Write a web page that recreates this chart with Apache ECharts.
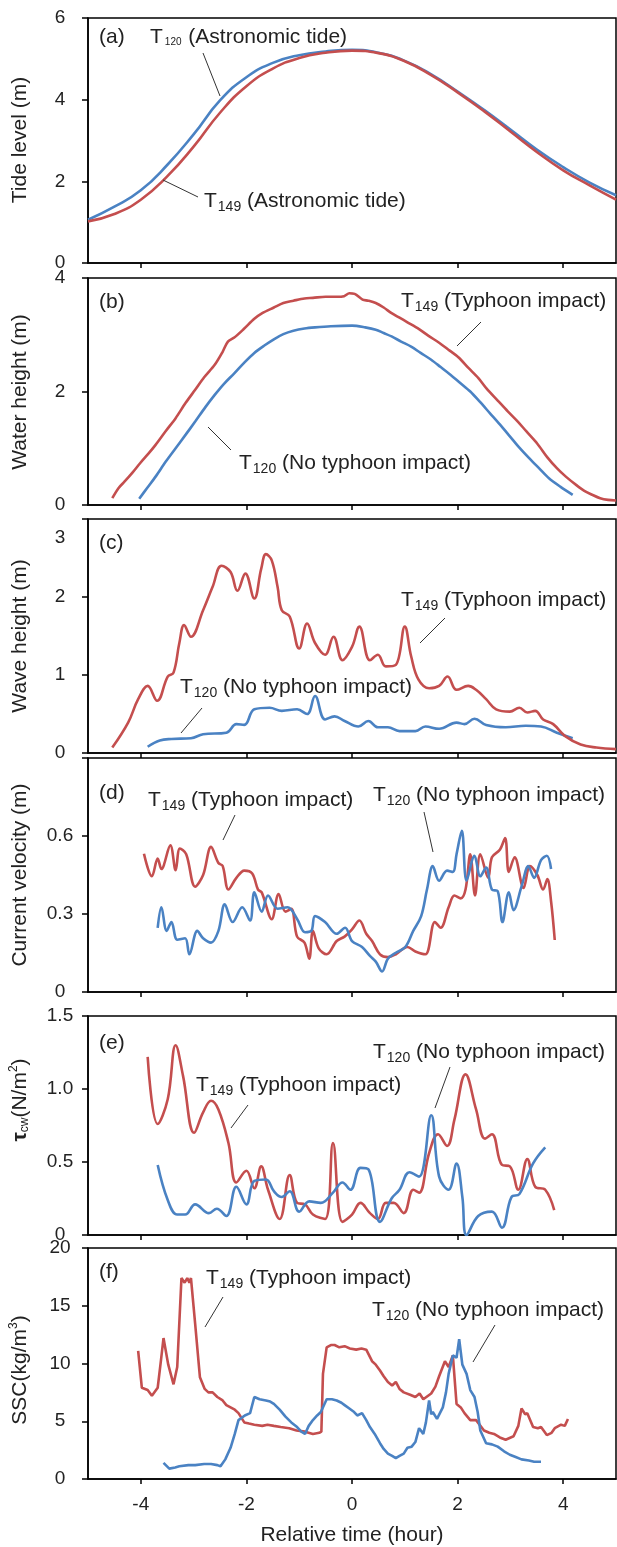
<!DOCTYPE html>
<html>
<head>
<meta charset="utf-8">
<script src="https://cdn.jsdelivr.net/npm/echarts@6/dist/echarts.min.js"></script>
<style>
  html, body { margin: 0; padding: 0; background: #fff; }
  #chart { width: 617px; height: 1547px; }
</style>
</head>
<body>
<div id="chart"></div>
<script>
// ---- data: [relative time (h), value] ----
// (a) astronomic tide level (m)
const tideT120 = [[-5,1.06],[-4.5,1.38],[-4,1.78],[-3.5,2.4],[-3,3.15],[-2.5,3.98],[-2,4.55],[-1.5,4.9],[-1,5.09],[-0.5,5.18],[0,5.22],[0.5,5.15],[1,4.95],[1.5,4.62],[2,4.2],[2.5,3.75],[3,3.27],[3.5,2.78],[4,2.35],[4.5,1.97],[5,1.66]];
const tideT149 = [[-5,1.02],[-4.5,1.2],[-4,1.55],[-3.5,2.12],[-3,2.85],[-2.5,3.68],[-2,4.33],[-1.5,4.76],[-1,5.02],[-0.5,5.15],[0,5.2],[0.5,5.14],[1,4.94],[1.5,4.6],[2,4.18],[2.5,3.72],[3,3.22],[3.5,2.72],[4,2.27],[4.5,1.9],[5,1.55]];

// (b) water height (m)
const waterT149 = [[-4.54,0.12],[-4.42,0.3],[-4.31,0.41],[-4.15,0.58],[-4.01,0.74],[-3.86,0.9],[-3.72,1.06],[-3.53,1.3],[-3.34,1.53],[-3.15,1.8],[-2.97,2.03],[-2.8,2.25],[-2.6,2.47],[-2.45,2.7],[-2.35,2.88],[-2.23,2.95],[-2.05,3.1],[-1.85,3.28],[-1.7,3.38],[-1.48,3.48],[-1.3,3.56],[-1.11,3.6],[-0.9,3.64],[-0.74,3.65],[-0.5,3.67],[-0.29,3.67],[-0.15,3.68],[-0.05,3.73],[0.05,3.72],[0.2,3.62],[0.31,3.6],[0.45,3.56],[0.6,3.48],[0.75,3.38],[0.9,3.3],[1.05,3.22],[1.27,3.1],[1.45,2.98],[1.65,2.86],[1.85,2.72],[2.02,2.6],[2.2,2.42],[2.39,2.24],[2.55,2.05],[2.76,1.84],[2.95,1.65],[3.14,1.47],[3.3,1.3],[3.51,1.08],[3.7,0.84],[3.88,0.65],[4.05,0.5],[4.25,0.35],[4.4,0.25],[4.55,0.18],[4.7,0.12],[4.85,0.09],[5.0,0.08]];
const waterT120 = [[-4.03,0.11],[-3.88,0.3],[-3.72,0.5],[-3.53,0.76],[-3.34,1.0],[-3.15,1.24],[-2.97,1.47],[-2.78,1.72],[-2.6,1.94],[-2.42,2.14],[-2.23,2.32],[-2.04,2.51],[-1.85,2.68],[-1.66,2.81],[-1.48,2.92],[-1.3,3.01],[-1.11,3.07],[-0.9,3.11],[-0.7,3.13],[-0.4,3.15],[0,3.16],[0.25,3.13],[0.45,3.09],[0.6,3.03],[0.75,2.97],[0.93,2.88],[1.12,2.79],[1.3,2.68],[1.5,2.56],[1.68,2.43],[1.87,2.29],[2.05,2.15],[2.24,2.0],[2.42,1.82],[2.61,1.62],[2.8,1.42],[2.99,1.21],[3.17,1.01],[3.36,0.82],[3.55,0.64],[3.73,0.47],[3.95,0.32],[4.18,0.18]];

// (c) wave height (m)
const waveT149 = [[-4.54,0.07],[-4.24,0.39],[-4.05,0.69],[-3.87,0.86],[-3.69,0.67],[-3.49,0.98],[-3.38,1.03],[-3.27,1.41],[-3.18,1.64],[-3.05,1.49],[-2.82,1.83],[-2.64,2.13],[-2.47,2.4],[-2.3,2.32],[-2.17,2.08],[-2.02,2.3],[-1.85,1.98],[-1.72,2.36],[-1.63,2.55],[-1.52,2.47],[-1.41,2.13],[-1.33,1.83],[-1.18,1.75],[-1.0,1.34],[-0.85,1.66],[-0.7,1.41],[-0.51,1.26],[-0.35,1.49],[-0.18,1.19],[0.0,1.36],[0.14,1.62],[0.34,1.19],[0.49,1.26],[0.64,1.11],[0.83,1.13],[1.0,1.62],[1.12,1.24],[1.26,0.94],[1.46,0.83],[1.65,0.86],[1.81,0.98],[1.98,0.81],[2.2,0.86],[2.35,0.81],[2.54,0.69],[2.73,0.56],[2.99,0.53],[3.17,0.58],[3.32,0.52],[3.47,0.54],[3.62,0.43],[3.81,0.37],[4.03,0.22],[4.33,0.11],[4.63,0.07],[5.0,0.05]];
const waveT120 = [[-3.87,0.08],[-3.64,0.16],[-3.42,0.18],[-3.05,0.19],[-2.82,0.24],[-2.38,0.26],[-2.19,0.37],[-2.04,0.36],[-1.85,0.56],[-1.56,0.58],[-1.33,0.54],[-1.04,0.56],[-0.85,0.5],[-0.7,0.73],[-0.51,0.43],[-0.33,0.47],[-0.14,0.41],[0.12,0.34],[0.31,0.41],[0.49,0.33],[0.68,0.33],[0.9,0.28],[1.2,0.28],[1.39,0.34],[1.65,0.31],[1.98,0.39],[2.13,0.37],[2.32,0.44],[2.54,0.36],[2.91,0.33],[3.29,0.35],[3.58,0.34],[3.88,0.26],[4.18,0.19]];

// (d) current velocity
const velT149 = [[-3.94,0.532],[-3.79,0.445],[-3.68,0.513],[-3.61,0.473],[-3.44,0.564],[-3.34,0.468],[-3.26,0.552],[-3.14,0.53],[-2.97,0.405],[-2.82,0.45],[-2.67,0.558],[-2.53,0.496],[-2.45,0.485],[-2.34,0.394],[-2.19,0.439],[-2.04,0.467],[-1.89,0.456],[-1.78,0.394],[-1.71,0.383],[-1.52,0.28],[-1.39,0.377],[-1.26,0.309],[-1.15,0.32],[-1.04,0.213],[-0.9,0.19],[-0.81,0.128],[-0.74,0.235],[-0.63,0.168],[-0.48,0.145],[-0.29,0.196],[-0.14,0.213],[0.0,0.241],[0.14,0.275],[0.27,0.224],[0.38,0.196],[0.53,0.145],[0.68,0.134],[0.83,0.145],[1.05,0.173],[1.2,0.156],[1.39,0.145],[1.57,0.269],[1.68,0.247],[1.83,0.326],[1.94,0.371],[2.06,0.36],[2.15,0.394],[2.24,0.53],[2.33,0.371],[2.43,0.53],[2.58,0.439],[2.65,0.518],[2.8,0.547],[2.9,0.592],[2.97,0.462],[3.08,0.518],[3.25,0.4],[3.37,0.484],[3.51,0.45],[3.62,0.394],[3.7,0.434],[3.77,0.349],[3.84,0.2]];
const velT120 = [[-3.68,0.247],[-3.61,0.326],[-3.51,0.235],[-3.42,0.269],[-3.31,0.201],[-3.16,0.207],[-3.08,0.145],[-2.93,0.235],[-2.82,0.207],[-2.67,0.19],[-2.53,0.235],[-2.41,0.337],[-2.26,0.269],[-2.08,0.326],[-1.93,0.275],[-1.85,0.383],[-1.71,0.309],[-1.59,0.371],[-1.41,0.32],[-1.22,0.326],[-1.04,0.281],[-0.89,0.23],[-0.77,0.235],[-0.7,0.292],[-0.51,0.269],[-0.29,0.224],[-0.13,0.247],[0.0,0.196],[0.19,0.173],[0.34,0.139],[0.45,0.117],[0.57,0.079],[0.68,0.128],[0.83,0.151],[1.01,0.173],[1.16,0.235],[1.31,0.292],[1.42,0.394],[1.53,0.484],[1.65,0.428],[1.8,0.467],[1.91,0.462],[1.98,0.53],[2.08,0.62],[2.17,0.428],[2.32,0.524],[2.43,0.445],[2.54,0.479],[2.65,0.394],[2.76,0.388],[2.85,0.269],[2.97,0.383],[3.06,0.315],[3.21,0.405],[3.34,0.484],[3.45,0.439],[3.58,0.507],[3.69,0.524],[3.77,0.473]];

// (e) bed shear stress tau_cw (N/m2)
const tauT149 = [[-3.87,1.22],[-3.68,0.76],[-3.49,0.93],[-3.34,1.3],[-3.2,1.09],[-2.99,0.7],[-2.82,0.84],[-2.67,0.92],[-2.53,0.86],[-2.34,0.63],[-2.19,0.36],[-2.0,0.44],[-1.85,0.32],[-1.72,0.47],[-1.59,0.31],[-1.37,0.11],[-1.18,0.41],[-1.04,0.22],[-0.89,0.21],[-0.74,0.14],[-0.51,0.11],[-0.36,0.63],[-0.18,0.09],[0.0,0.14],[0.16,0.22],[0.34,0.15],[0.49,0.11],[0.64,0.22],[0.79,0.22],[0.98,0.15],[1.16,0.31],[1.27,0.29],[1.46,0.56],[1.63,0.69],[1.8,0.61],[1.94,0.79],[2.15,1.1],[2.35,0.86],[2.52,0.66],[2.65,0.69],[2.84,0.48],[2.99,0.47],[3.15,0.31],[3.32,0.52],[3.47,0.33],[3.66,0.31],[3.83,0.17]];
const tauT120 = [[-3.68,0.48],[-3.49,0.24],[-3.31,0.14],[-3.16,0.14],[-2.97,0.21],[-2.71,0.15],[-2.56,0.18],[-2.38,0.13],[-2.19,0.33],[-2.0,0.21],[-1.85,0.37],[-1.63,0.38],[-1.48,0.3],[-1.33,0.26],[-1.18,0.3],[-1.0,0.16],[-0.81,0.23],[-0.59,0.22],[-0.36,0.29],[-0.18,0.36],[-0.03,0.31],[0.16,0.46],[0.31,0.45],[0.53,0.09],[0.75,0.25],[0.9,0.31],[1.09,0.43],[1.27,0.4],[1.5,0.82],[1.65,0.4],[1.83,0.31],[1.98,0.49],[2.09,0.26],[2.17,0.0],[2.39,0.13],[2.65,0.16],[2.84,0.05],[3.02,0.26],[3.17,0.28],[3.43,0.49],[3.66,0.6]];

// (f) suspended sediment concentration (kg/m3)
const sscT149 = [[-4.05,11.1],[-3.98,7.9],[-3.87,7.7],[-3.79,7.2],[-3.68,7.9],[-3.62,10.2],[-3.57,12.2],[-3.48,9.9],[-3.38,8.2],[-3.31,9.7],[-3.23,17.4],[-3.17,17.0],[-3.12,17.4],[-3.08,17.0],[-3.05,17.4],[-2.97,13.4],[-2.88,8.8],[-2.79,7.8],[-2.72,7.5],[-2.64,7.5],[-2.55,7.1],[-2.45,6.8],[-2.38,6.4],[-2.3,6.2],[-2.22,6.0],[-2.15,5.7],[-2.04,4.9],[-1.95,4.8],[-1.85,4.7],[-1.7,4.6],[-1.6,4.7],[-1.48,4.6],[-1.35,4.5],[-1.19,4.4],[-1.05,4.2],[-0.89,4.1],[-0.74,3.9],[-0.62,4.0],[-0.58,4.1],[-0.55,9.1],[-0.48,11.4],[-0.4,11.6],[-0.33,11.6],[-0.24,11.4],[-0.14,11.5],[-0.04,11.3],[0.08,11.2],[0.18,11.3],[0.27,11.2],[0.38,10.2],[0.45,9.9],[0.53,9.4],[0.6,8.9],[0.68,8.4],[0.76,8.1],[0.83,8.4],[0.9,7.8],[0.98,7.5],[1.1,7.3],[1.2,7.1],[1.28,7.4],[1.35,6.9],[1.5,7.4],[1.58,8.0],[1.65,8.9],[1.76,10.2],[1.83,9.7],[1.91,10.7],[1.98,6.5],[2.06,6.2],[2.13,5.7],[2.24,5.1],[2.35,5.1],[2.5,4.2],[2.6,4.0],[2.69,3.9],[2.8,3.6],[2.91,3.4],[3.06,3.7],[3.15,4.6],[3.21,6.1],[3.28,5.6],[3.32,5.7],[3.43,4.5],[3.52,4.4],[3.58,4.5],[3.69,3.8],[3.78,4.0],[3.84,4.4],[3.96,4.7],[4.03,4.6],[4.09,5.2]];
const sscT120 = [[-3.57,1.4],[-3.46,0.9],[-3.35,1.0],[-3.27,1.1],[-3.1,1.2],[-2.97,1.2],[-2.8,1.3],[-2.67,1.3],[-2.55,1.2],[-2.49,1.1],[-2.4,1.7],[-2.3,2.7],[-2.22,3.9],[-2.15,5.1],[-2.03,5.5],[-1.93,5.7],[-1.85,7.1],[-1.75,6.9],[-1.63,6.8],[-1.55,6.7],[-1.48,6.5],[-1.37,6.0],[-1.26,5.4],[-1.15,4.9],[-1.04,4.5],[-0.96,4.1],[-0.89,3.9],[-0.82,4.6],[-0.74,5.1],[-0.66,5.5],[-0.59,5.8],[-0.48,6.9],[-0.38,6.9],[-0.29,6.8],[-0.2,6.6],[-0.14,6.4],[-0.05,6.1],[0.04,5.8],[0.1,5.5],[0.19,5.7],[0.27,5.1],[0.34,4.5],[0.43,3.9],[0.53,3.1],[0.6,2.6],[0.68,2.2],[0.76,2.0],[0.83,1.8],[0.9,2.0],[0.98,2.2],[1.05,2.7],[1.13,2.8],[1.2,3.2],[1.27,4.4],[1.32,4.1],[1.35,3.9],[1.4,4.9],[1.46,6.8],[1.5,5.6],[1.53,5.8],[1.61,5.2],[1.72,6.2],[1.78,7.5],[1.83,9.1],[1.91,10.7],[1.98,10.5],[2.03,12.1],[2.09,9.9],[2.17,9.1],[2.24,7.7],[2.32,7.1],[2.38,5.8],[2.43,4.2],[2.54,3.1],[2.65,3.0],[2.76,2.8],[2.88,2.4],[2.99,2.1],[3.1,1.9],[3.21,1.7],[3.35,1.6],[3.45,1.5],[3.58,1.5]];

// tick labels shared by the time axes
const timeTicks = [-4, -2, 0, 2, 4];

const RED = '#c44e4e';
const BLUE = '#4a82c3';
const FONT = '"Liberation Sans", Arial, sans-serif';

const chart = echarts.init(document.getElementById('chart'), null, { renderer: 'canvas' });

// panel frames (top, height) in px
const panels = [
  { top: 18, height: 245 },
  { top: 278, height: 227 },
  { top: 519, height: 234 },
  { top: 758, height: 234 },
  { top: 1016, height: 219 },
  { top: 1248, height: 234 }
];
const yScales = [
  { max: 6, interval: 2 },
  { max: 4, interval: 2 },
  { max: 3, interval: 1 },
  { max: 0.9, interval: 0.3 },
  { max: 1.5, interval: 0.5 },
  { max: 20, interval: 5 }
];
const yFormatters = [
  v => String(v),
  v => String(v),
  v => (v === 3 ? '{lo|3}' : String(v)),
  v => (v === 0 ? '0' : (Math.abs(v - 0.9) < 1e-6 ? '' : v.toFixed(1))),
  v => (v === 0 ? '0' : v.toFixed(1)),
  v => String(v)
];

const grid = panels.map(p => ({
  left: 88, width: 528, top: p.top, height: p.height,
  show: true, borderColor: '#000', borderWidth: 1.5, backgroundColor: 'transparent'
}));

const xAxis = panels.map((p, i) => ({
  type: 'value', gridIndex: i, min: -5, max: 5,
  axisLine: { onZero: false, lineStyle: { color: '#000', width: 1.5 } },
  axisTick: { show: true, inside: false, length: 5, customValues: timeTicks, lineStyle: { color: '#000', width: 1.5 } },
  axisLabel: { show: i === 5, customValues: timeTicks, margin: 16, fontSize: 19, color: '#222', fontFamily: FONT },
  splitLine: { show: false },
  name: i === 5 ? 'Relative time (hour)' : '',
  nameLocation: 'middle', nameGap: 46,
  nameTextStyle: { fontSize: 21, color: '#222', fontFamily: FONT }
}));

const yAxis = panels.map((p, i) => ({
  type: 'value', gridIndex: i, min: 0, max: yScales[i].max, interval: yScales[i].interval,
  axisLine: { show: true, onZero: false, lineStyle: { color: '#000', width: 1.5 } },
  axisTick: { show: true, inside: false, length: 6, lineStyle: { color: '#000', width: 1.5 } },
  axisLabel: {
    margin: 28, align: 'center', fontSize: 19, color: '#222', fontFamily: FONT,
    formatter: yFormatters[i],
    rich: { lo: { fontSize: 19, color: '#222', fontFamily: FONT, padding: [38, 0, 0, 0] } }
  },
  splitLine: { show: false }
}));

function line(data, idx, color, smooth) {
  return {
    type: 'line', xAxisIndex: idx, yAxisIndex: idx, data: data,
    showSymbol: false, smooth: smooth, clip: true,
    lineStyle: { color: color, width: 2.6 }, itemStyle: { color: color },
    animation: false
  };
}

const series = [
  line(tideT120, 0, BLUE, true),
  line(tideT149, 0, RED, true),
  line(waterT120, 1, BLUE, 0.3),
  line(waterT149, 1, RED, 0.3),
  line(waveT120, 2, BLUE, 0.4),
  line(waveT149, 2, RED, 0.4),
  line(velT149, 3, RED, 0.35),
  line(velT120, 3, BLUE, 0.35),
  line(tauT149, 4, RED, 0.4),
  line(tauT120, 4, BLUE, 0.4),
  line(sscT149, 5, RED, false),
  line(sscT120, 5, BLUE, false)
];

// text helpers
const rich = {
  t: { fontSize: 21, fontFamily: FONT, color: '#222' },
  s: { fontSize: 14, fontFamily: FONT, color: '#222', padding: [12, 0, 0, 1] },
  ss: { fontSize: 10, fontFamily: FONT, color: '#222', padding: [10, 1, 0, 2] },
  b: { fontSize: 21, fontFamily: FONT, color: '#222', fontWeight: 'bold' },
  lw: { fontSize: 12, fontFamily: FONT, color: '#222', padding: [10, 0, 0, 0] },
  up: { fontSize: 12, fontFamily: FONT, color: '#222', padding: [0, 0, 12, 0] }
};
function label(x, y, str) {
  return { type: 'text', x: x, y: y, z: 100,
    style: { text: str, rich: rich, align: 'left', verticalAlign: 'middle', fill: '#222', font: '21px ' + FONT } };
}
function vlabel(x, y, str) {
  return { type: 'text', x: x, y: y, rotation: Math.PI / 2, z: 100,
    style: { text: str, rich: rich, align: 'center', verticalAlign: 'middle', fill: '#222', font: '21px ' + FONT } };
}
function leader(x1, y1, x2, y2) {
  return { type: 'line', z: 100, shape: { x1: x1, y1: y1, x2: x2, y2: y2 }, style: { stroke: '#333', lineWidth: 1 } };
}
const TY149 = '{t|T}{s|149}{t| (Typhoon impact)}';
const NO120 = '{t|T}{s|120}{t| (No typhoon impact)}';

const graphic = [
  // panel letters
  label(99, 37, '{t|(a)}'), label(99, 302, '{t|(b)}'), label(99, 543, '{t|(c)}'),
  label(99, 793, '{t|(d)}'), label(99, 1043, '{t|(e)}'), label(99, 1272, '{t|(f)}'),
  // y axis titles
  vlabel(20, 140, '{t|Tide level (m)}'),
  vlabel(20, 392, '{t|Water height (m)}'),
  vlabel(20, 636, '{t|Wave height (m)}'),
  vlabel(20, 875, '{t|Current velocity (m)}'),
  vlabel(20, 1100, '{b|τ}{lw|cw}{t|(N/m}{up|2}{t|)}'),
  vlabel(20, 1370, '{t|SSC(kg/m}{up|3}{t|)}'),
  // (a)
  label(150, 37, '{t|T}{ss|120}{t| (Astronomic tide)}'), leader(203, 53, 220, 96),
  label(204, 201, '{t|T}{s|149}{t| (Astronomic tide)}'), leader(163, 180, 198, 197),
  // (b)
  label(401, 301, TY149), leader(481, 322, 457, 346),
  label(239, 463, NO120), leader(208, 427, 231, 450),
  // (c)
  label(401, 600, TY149), leader(445, 618, 420, 643),
  label(180, 687, NO120), leader(202, 708, 181, 733),
  // (d)
  label(148, 800, TY149), leader(235, 815, 223, 840),
  label(373, 795, NO120), leader(424, 812, 433, 852),
  // (e)
  label(373, 1052, NO120), leader(450, 1067, 435, 1108),
  label(196, 1085, TY149), leader(248, 1105, 231, 1128),
  // (f)
  label(206, 1278, TY149), leader(223, 1297, 205, 1327),
  label(372, 1310, NO120), leader(495, 1325, 473, 1362)
];

chart.setOption({
  backgroundColor: '#fff',
  animation: false,
  grid: grid,
  xAxis: xAxis,
  yAxis: yAxis,
  series: series,
  graphic: graphic
});
</script>
</body>
</html>
